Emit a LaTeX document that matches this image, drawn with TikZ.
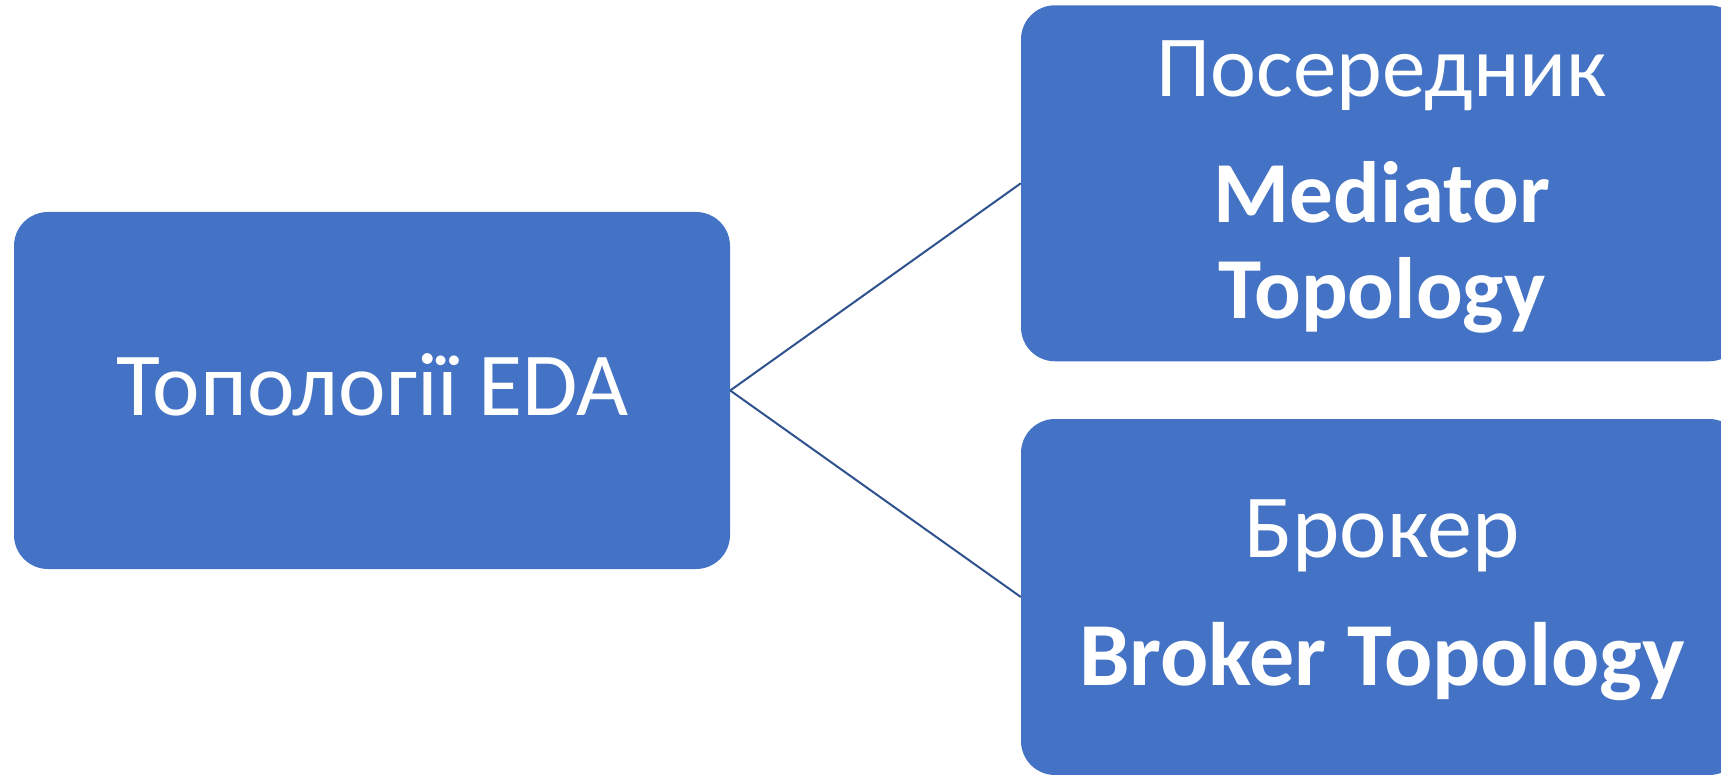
\documentclass[tikz,border=0pt]{standalone}
\usepackage{fontspec}
\setmainfont{Carlito}
\definecolor{boxblue}{HTML}{4472C4}
\definecolor{linkblue}{HTML}{2F528F}
\begin{document}
\begin{tikzpicture}[x=1pt,y=-1pt,
  box/.style={fill=boxblue, draw=none, rounded corners=34pt, inner sep=0pt},
  conn/.style={draw=linkblue, line width=2pt},
  txt/.style={text=white, inner sep=0pt, anchor=base},
  reg/.style={txt, font=\fontsize{#1}{#1}\selectfont},
  bld/.style={txt, font=\fontsize{#1}{#1}\selectfont\bfseries}]
  \useasboundingbox (0,0) rectangle (1721,775);
  \clip (0,0) rectangle (1721,775);
  % boxes
  \node[box, minimum width=716pt, minimum height=357pt] (root) at (372,390.5) {};
  \node[box, minimum width=722pt, minimum height=356pt] (med) at (1382,183.3) {};
  \node[box, minimum width=722pt, minimum height=356pt] (brk) at (1382,597) {};
  % connectors
  \draw[conn] (root.east) -- (med.west);
  \draw[conn] (root.east) -- (brk.west);
  % labels
  \node[reg=90] (roottxt) at (373,415.5) {Топології EDA};
  \node[reg=87] (medru) at (1382,97) {Посередник};
  \node[bld=87] (meden1) at (1382,223) {Mediator};
  \node[bld=87] (meden2) at (1382,319) {Topology};
  \node[reg=90] (brkru) at (1382,557.6) {Брокер};
  \node[bld=90] (brken) at (1382,685) {Broker Topology};
\end{tikzpicture}
\end{document}
